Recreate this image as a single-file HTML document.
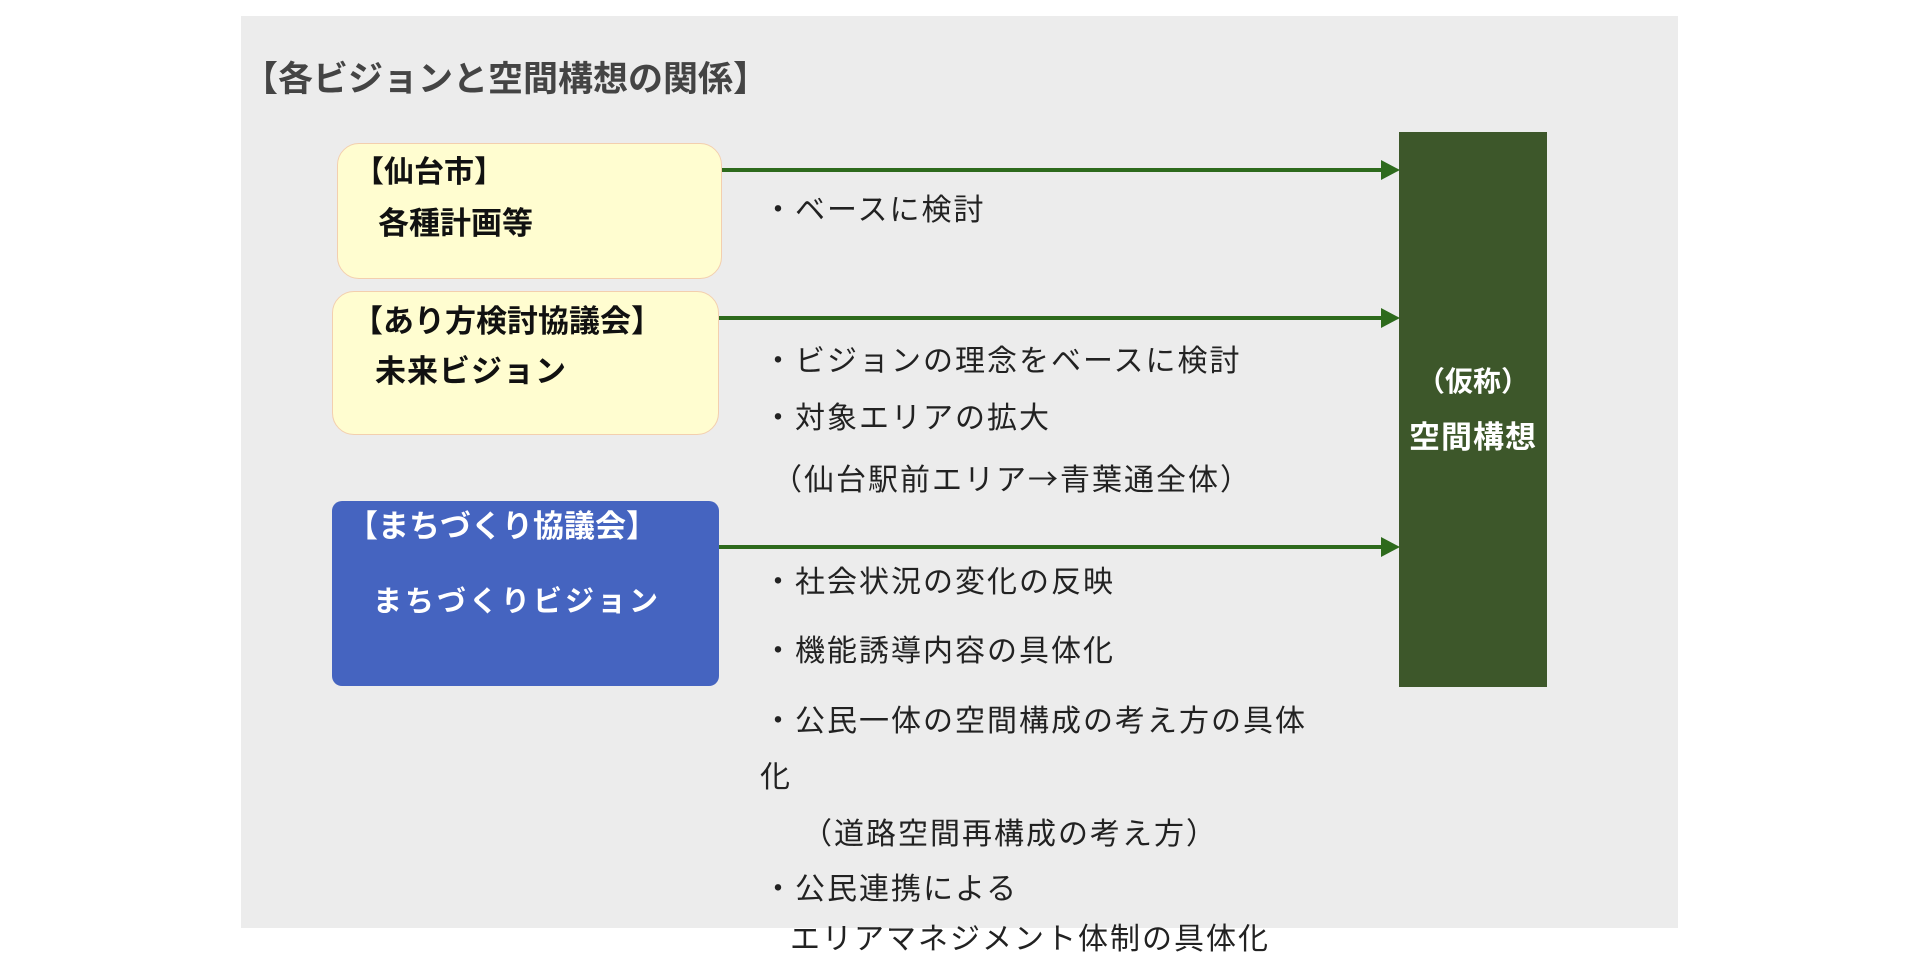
<!DOCTYPE html>
<html><head><meta charset="utf-8"><style>
body{margin:0;width:1920px;height:957px;background:#fff;position:relative;overflow:hidden;font-family:"Liberation Sans","Noto Sans CJK JP",sans-serif}
.a{position:absolute;white-space:nowrap;line-height:1}
.b{font-weight:bold}
.t{font-size:30px;color:#222;letter-spacing:2px}
.j{font-family:"Noto Sans CJK JP",sans-serif}
</style></head><body>
<div class="a" style="left:241px;top:16px;width:1437px;height:912px;background:#ececec"></div>
<div class="a b" style="left:243px;top:62px;font-size:35px;color:#444">【各ビジョンと空間構想の関係】</div>

<div class="a" style="left:337px;top:143px;width:383px;height:134px;background:#fffdd0;border:1.5px solid #f3cfae;border-radius:22px"></div>
<div class="a b" style="left:354px;top:158px;font-size:30px;color:#111">【仙台市】</div>
<div class="a b" style="left:378px;top:208px;font-size:31px;color:#111">各種計画等</div>

<div class="a" style="left:332px;top:291px;width:385px;height:142px;background:#fffdd0;border:1.5px solid #f3cfae;border-radius:22px"></div>
<div class="a b" style="left:352px;top:306px;font-size:31px;color:#111">【あり方検討協議会】</div>
<div class="a b" style="left:375px;top:356px;font-size:31px;color:#111;letter-spacing:1px">未来ビジョン</div>

<div class="a" style="left:332px;top:501px;width:387px;height:185px;background:#4564c0;border-radius:10px"></div>
<div class="a b" style="left:347px;top:511px;font-size:31px;color:#fff">【まちづくり協議会】</div>
<div class="a b" style="left:373px;top:588px;font-size:29px;color:#fff;letter-spacing:3px">まちづくりビジョン</div>

<div class="a" style="left:1399px;top:132px;width:148px;height:555px;background:#3d572a"></div>
<div class="a b" style="left:1399px;width:148px;text-align:center;top:368px;font-size:28px;color:#fff">（仮称）</div>
<div class="a b" style="left:1399px;width:148px;text-align:center;top:422px;font-size:31px;color:#fff;letter-spacing:1px">空間構想</div>

<svg class="a" style="left:0;top:0" width="1920" height="957">
<g stroke="#2d6a1c" stroke-width="4" fill="#2d6a1c">
<line x1="722" y1="170" x2="1384" y2="170"/><polygon points="1381,160 1400,170 1381,180" stroke="none"/>
<line x1="719" y1="318" x2="1384" y2="318"/><polygon points="1381,308 1400,318 1381,328" stroke="none"/>
<line x1="719" y1="547" x2="1384" y2="547"/><polygon points="1381,537 1400,547 1381,557" stroke="none"/>
</g></svg>

<div class="a t" style="left:763px;top:196px">・ベースに検討</div>
<div class="a t" style="left:763px;top:347px">・ビジョンの理念をベースに検討</div>
<div class="a t" style="left:763px;top:404px">・対象エリアの拡大</div>
<div class="a t" style="left:772px;top:462px">（仙台駅前エリア<span class="j">→</span>青葉通全体）</div>
<div class="a t" style="left:763px;top:568px">・社会状況の変化の反映</div>
<div class="a t" style="left:763px;top:637px">・機能誘導内容の具体化</div>
<div class="a t" style="left:763px;top:707px">・公民一体の空間構成の考え方の具体</div>
<div class="a t" style="left:760px;top:763px">化</div>
<div class="a t" style="left:802px;top:820px">（道路空間再構成の考え方）</div>
<div class="a t" style="left:763px;top:875px">・公民連携による</div>
<div class="a t" style="left:790px;top:925px">エリアマネジメント体制の具体化</div>
</body></html>
